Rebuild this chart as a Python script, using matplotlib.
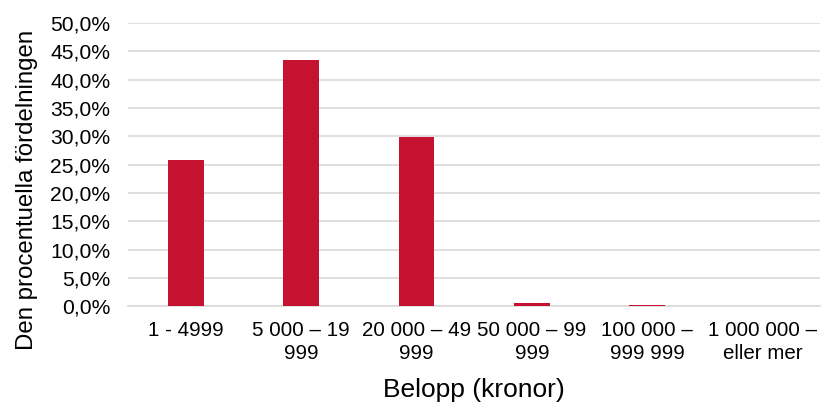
import numpy as np
import matplotlib
matplotlib.use("Agg")
import matplotlib.pyplot as plt
from matplotlib.ticker import FuncFormatter, MultipleLocator

categories = ["1 - 4999", "5 000 – 19\n999", "20 000 – 49\n999",
              "50 000 – 99\n999", "100 000 –\n999 999", "1 000 000 –\neller mer"]
shares = [25.8, 43.5, 29.8, 0.5, 0.15, 0.0]

plt.rcParams["font.family"] = ["Liberation Sans", "DejaVu Sans"]

fig = plt.figure(figsize=(8.22, 4.05), dpi=100)
ax = fig.add_axes([0.156, 0.244, 0.842, 0.699])

x = np.arange(len(categories))
ax.bar(x, shares, width=0.31, color="#C41230", zorder=3)

ax.set_ylim(0, 50)
ax.set_xlim(-0.5, len(categories) - 0.5)
ax.yaxis.set_major_locator(MultipleLocator(5))
ax.yaxis.set_major_formatter(FuncFormatter(lambda v, p: f"{v:.1f}%".replace(".", ",")))
ax.grid(axis="y", color="#D9D9D9", linewidth=1.2, zorder=0)

ax.set_xticks(x)
ax.set_xticklabels(categories, fontsize=14.8, linespacing=1.25)
ax.tick_params(axis="y", labelsize=15.2, length=0, pad=13)
ax.tick_params(axis="x", length=0, pad=11)
for side in ["top", "right", "left"]:
    ax.spines[side].set_visible(False)
ax.spines["bottom"].set_color("#D9D9D9")
ax.spines["bottom"].set_linewidth(1.2)

ax.set_ylabel("Den procentuella fördelningen", fontsize=17.3)
ax.yaxis.set_label_coords(-0.13, 0.41)
ax.set_xlabel("Belopp (kronor)", fontsize=19, labelpad=11)

fig.savefig("out.png", dpi=100)
